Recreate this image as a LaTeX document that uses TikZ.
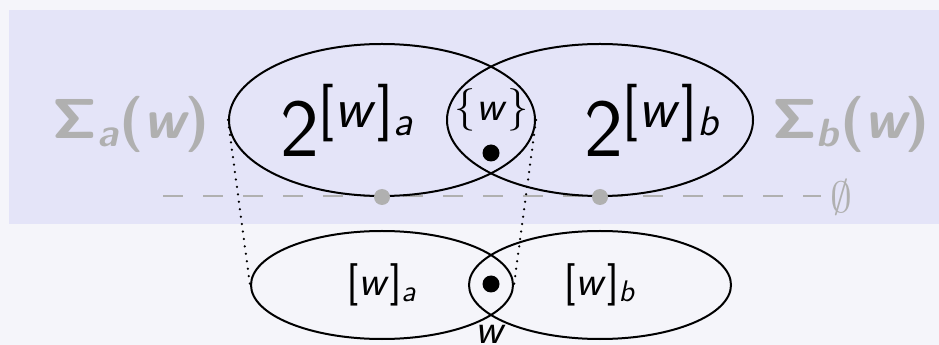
\RequirePackage{fix-cm}
\documentclass[tikz,border=0pt]{standalone}
\usepackage[no-math]{fontspec}
\usepackage{xcolor}
\usepackage{amsmath}
\usepackage{tikz}
\usetikzlibrary{shapes.geometric, positioning}
\definecolor{mygray}{RGB}{176,176,176}
\definecolor{bgpage}{RGB}{245,245,250}
\definecolor{bgband}{RGB}{228,228,248}
% sans-serif math, as on the slides
\SetSymbolFont{operators}{normal}{OT1}{cmss}{m}{n}
\SetSymbolFont{operators}{bold}{OT1}{cmss}{bx}{n}
\DeclareMathAlphabet{\mathsi}{OT1}{cmss}{m}{sl}
\SetMathAlphabet{\mathsi}{bold}{OT1}{cmss}{bx}{n}
\newfontfamily\sumit{lmsans10-boldoblique.otf}
\newcommand{\wv}{\mathsi{w}}
\tikzset{
  bigset/.style={ellipse, draw=black, thick, inner sep=0pt,
    minimum width=122.4pt, minimum height=60.8pt},
  classset/.style={ellipse, draw=black, thick, inner sep=0pt,
    minimum width=104.8pt, minimum height=43.2pt,
    font=\fontsize{17}{20}\selectfont},
  elem/.style={circle, fill=black, inner sep=0pt, minimum size=6.8pt},
  emptyelem/.style={circle, fill=mygray, inner sep=0pt, minimum size=6.4pt},
  sumlabel/.style={text=mygray, font=\fontsize{22.5}{26}\selectfont\boldmath},
  powlabel/.style={anchor=base, font=\fontsize{33}{36}\selectfont},
  link/.style={line width=1pt, dash pattern=on 0pt off 3pt, line cap=round},
  nullline/.style={mygray, line width=0.8pt, dash pattern=on 8pt off 8pt}
}

\begin{document}
\begin{tikzpicture}[x=0.4pt, y=-0.4pt]
  % Page and highlight band
  \useasboundingbox (0,0) rectangle (939,345);
  \fill[bgpage] (0,0) rectangle (939,345);
  \fill[bgband] (9,10) rectangle (939,224);

  % Line of empty sets
  \coordinate (lstart) at (163,196);
  \node[text=mygray, font=\fontsize{17.5}{20}\selectfont] (empty) at (841,197) {$\emptyset$};
  \draw[nullline] (lstart) -- (lstart -| empty.west);

  % Power sets of the classes
  \node[bigset] (ua) at (382,120) {};
  \node[bigset] (ub) at (600,120) {};

  % Classes of w
  \node[classset] (la) at (382,285) {$[\wv]_{\mathsi{a}}$};
  \node[classset] (lb) at (600,285) {$[\wv]_{\mathsi{b}}$};

  % Projections
  \draw[link] (ua.west) -- (la.west);
  \draw[link] (ua.east) -- (la.east);

  % Points
  \node[emptyelem] (ea) at (ua.south) {};
  \node[emptyelem] (eb) at (ub.south) {};
  \node[elem] (wu) at (491,153) {};
  \node[elem] (wl) at (491,284) {};

  % Labels
  \node[powlabel] (pa) at (348,157) {$2^{[\wv]_{\mathsi{a}}}$};
  \node[powlabel] (pb) at (653,157) {$2^{[\wv]_{\mathsi{b}}}$};
  \node[font=\fontsize{17}{20}\selectfont] (sw) at (492,110) {$\{\wv\}$};
  \node[sumlabel] (sa) at (131,124) {$\Sigma_{\text{\sumit a}}(\text{\sumit w})$};
  \node[sumlabel] (sb) at (851,124) {$\Sigma_{\text{\sumit b}}(\text{\sumit w})$};
  \node[anchor=north, font=\fontsize{17}{20}\selectfont] (wn) at (491,316) {$\wv$};
\end{tikzpicture}
\end{document}
